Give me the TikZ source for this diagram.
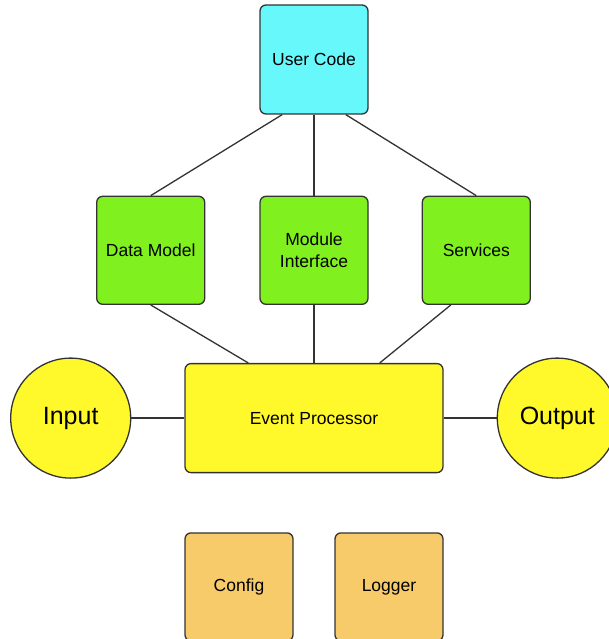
\documentclass[tikz,border=0pt]{standalone}
\usepackage{fontspec}
\setmainfont{Liberation Sans}
\usepackage{tikz}
\usetikzlibrary{positioning}
\definecolor{usercyan}{HTML}{66F8FA}
\definecolor{modgreen}{HTML}{80F01E}
\definecolor{coreyellow}{HTML}{FFF92C}
\definecolor{auxorange}{HTML}{F8CB6A}
\definecolor{edgegray}{HTML}{333333}

\begin{document}
\begin{tikzpicture}[node distance={55pt}, line width=1.3pt,
  main/.style = {draw=edgegray, rounded corners=6pt, minimum width=108pt, minimum height=108pt, align=center, font=\fontsize{17.5}{22}\selectfont},
  io/.style = {draw=edgegray, circle, fill=coreyellow, minimum size=120pt, inner sep=0pt, font=\fontsize{25}{30}\selectfont}]
\useasboundingbox (0,0) rectangle (608pt,-639pt);
\node[main, fill=usercyan, minimum height=109pt] (user) at (314pt,-59.5pt) {User Code};
\node[main, fill=modgreen] (mod) [below=81pt of user] {Module\\Interface};
\node[main, fill=modgreen] (data) [left=54pt of mod] {Data Model};
\node[main, fill=modgreen] (serv) [right=53pt of mod] {Services};
\node[main, fill=coreyellow, minimum width=258pt, minimum height=109pt] (event) [below=58pt of mod] {Event Processor};
\node[io] (input) [left=53pt of event] {Input};
\node[io] (output) [right=53pt of event] {Output};
\node[main, fill=auxorange] (config) [below=59pt of event.south west, anchor=north west] {Config};
\node[main, fill=auxorange] (logger) [below=59pt of event.south east, anchor=north east] {Logger};
\draw[-, edgegray] (user.-120) -- (data.north);
\draw[-, edgegray] (user.south) -- (mod.north);
\draw[-, edgegray] (user.-60) -- (serv.north);
\draw[-, edgegray] (data.south) -- (event.140);
\draw[-, edgegray] (mod.south) -- (event.north);
\draw[-, edgegray] (serv.-115) -- (event.40);
\draw[-, edgegray] (input) -- (event);
\draw[-, edgegray] (event) -- (output);
\end{tikzpicture}
\end{document}
